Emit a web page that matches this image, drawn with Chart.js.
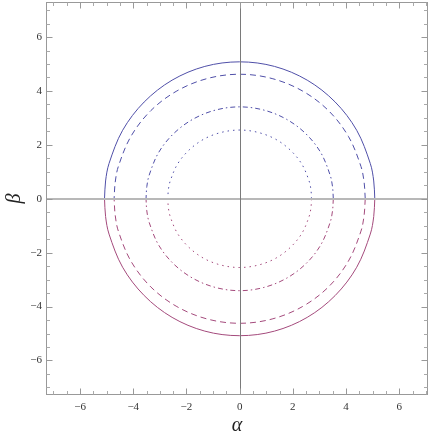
<!DOCTYPE html>
<html>
<head>
<meta charset="utf-8">
<script src="https://cdn.jsdelivr.net/npm/chart.js@4.4.0/dist/chart.umd.min.js"></script>
<style>
  html, body { margin: 0; padding: 0; background: #fff; }
</style>
</head>
<body>
<canvas id="chart" width="436" height="436"></canvas>
<script>
// curve points (upper half blue, lower half purple)
const alphaSolid = [5.08, 5.04, 4.91, 4.40, 3.59, 2.54, 1.31, 0, -1.31, -2.54, -3.59, -4.40, -4.91, -5.04, -5.08];
const betaSolidUp = [0, 0.66, 1.31, 2.54, 3.59, 4.40, 4.91, 5.08, 4.91, 4.40, 3.59, 2.54, 1.31, 0.66, 0];
const betaSolidDown = [0, -0.66, -1.31, -2.54, -3.59, -4.40, -4.91, -5.08, -4.91, -4.40, -3.59, -2.54, -1.31, -0.66, 0];

const alphaDashed = [4.72, 4.68, 4.56, 4.09, 3.34, 2.36, 1.22, 0, -1.22, -2.36, -3.34, -4.09, -4.56, -4.68, -4.72];
const betaDashedUp = [0, 0.60, 1.20, 2.31, 3.27, 4.00, 4.46, 4.62, 4.46, 4.00, 3.27, 2.31, 1.20, 0.60, 0];
const betaDashedDown = [0, -0.60, -1.20, -2.31, -3.27, -4.00, -4.46, -4.62, -4.46, -4.00, -3.27, -2.31, -1.20, -0.60, 0];

const alphaDashDot = [3.52, 3.49, 3.40, 3.05, 2.49, 1.76, 0.91, 0, -0.91, -1.76, -2.49, -3.05, -3.40, -3.49, -3.52];
const betaDashDotUp = [0, 0.45, 0.88, 1.71, 2.41, 2.95, 3.29, 3.41, 3.29, 2.95, 2.41, 1.71, 0.88, 0.45, 0];
const betaDashDotDown = [0, -0.45, -0.88, -1.71, -2.41, -2.95, -3.29, -3.41, -3.29, -2.95, -2.41, -1.71, -0.88, -0.45, 0];

const alphaDotted = [2.70, 2.68, 2.61, 2.34, 1.91, 1.35, 0.70, 0, -0.70, -1.35, -1.91, -2.34, -2.61, -2.68, -2.70];
const betaDottedUp = [0, 0.33, 0.66, 1.28, 1.80, 2.21, 2.46, 2.55, 2.46, 2.21, 1.80, 1.28, 0.66, 0.33, 0];
const betaDottedDown = [0, -0.33, -0.66, -1.28, -1.80, -2.21, -2.46, -2.55, -2.46, -2.21, -1.80, -1.28, -0.66, -0.33, 0];

const majorTicks = [-6, -4, -2, 0, 2, 4, 6];

const BLUE = "#4f4fa8";
const PURPLE = "#a44a7c";

const toPoints = (xs, ys) => xs.map((x, i) => ({ x: x, y: ys[i] }));

const curve = (xs, ys, color, dash) => ({
  data: toPoints(xs, ys),
  showLine: true,
  borderColor: color,
  borderWidth: 1,
  borderDash: dash,
  tension: 0.34,
  pointRadius: 0,
  fill: false,
});

const fmt = (v) => (v < 0 ? "\u2212" + Math.abs(v) : String(v));

// Mathematica-like frame with inward ticks and the two axes through 0
const framePlugin = {
  id: "frame",
  afterDatasetsDraw(chart) {
    const { ctx, chartArea: a, scales } = chart;
    const sx = scales.x, sy = scales.y;
    const L = Math.round(a.left) + 0.5, R = Math.round(a.right) - 0.5;
    const T = Math.round(a.top) + 0.5, B = Math.round(a.bottom) - 0.5;
    const line = (x1, y1, x2, y2) => {
      ctx.beginPath();
      ctx.moveTo(x1, y1);
      ctx.lineTo(x2, y2);
      ctx.stroke();
    };
    ctx.save();
    // horizontal axis
    ctx.strokeStyle = "#b8b8b8";
    ctx.lineWidth = 2;
    const y0 = Math.round(sy.getPixelForValue(0));
    line(L, y0, R, y0);
    // vertical axis
    ctx.strokeStyle = "#7a7a7a";
    ctx.lineWidth = 1;
    const x0 = Math.round(sx.getPixelForValue(0)) + 0.5;
    line(x0, T, x0, B);

    // frame
    ctx.strokeStyle = "#999";
    ctx.strokeRect(L, T, R - L, B - T);

    // ticks
    for (let k = -14; k <= 14; k++) {
      const v = k / 2;
      const major = majorTicks.includes(v);
      const len = major ? 6 : 3.5;
      ctx.strokeStyle = major ? "#999" : "#aaa";
      const px = Math.round(sx.getPixelForValue(v)) + 0.5;
      if (px > L && px < R) {
        line(px, B, px, B - len);
        line(px, T, px, T + len);
      }
      const py = Math.round(sy.getPixelForValue(v)) + 0.5;
      if (py > T && py < B) {
        line(L, py, L + len, py);
        line(R, py, R - len, py);
      }
    }
    ctx.restore();
  },
};

const tickFont = { family: "Liberation Serif", size: 11 };
const titleFont = { family: "Liberation Serif", size: 20, style: "italic", lineHeight: 1 };

new Chart(document.getElementById("chart"), {
  type: "scatter",
  data: {
    datasets: [
      curve(alphaSolid, betaSolidUp, BLUE, []),
      curve(alphaSolid, betaSolidDown, PURPLE, []),
      curve(alphaDashed, betaDashedUp, BLUE, [6, 4]),
      curve(alphaDashed, betaDashedDown, PURPLE, [6, 4]),
      curve(alphaDashDot, betaDashDotUp, BLUE, [5, 3, 1.5, 3]),
      curve(alphaDashDot, betaDashDotDown, PURPLE, [5, 3, 1.5, 3]),
      curve(alphaDotted, betaDottedUp, BLUE, [1.5, 4]),
      curve(alphaDotted, betaDottedDown, PURPLE, [1.5, 4]),
    ],
  },
  options: {
    responsive: false,
    animation: false,
    layout: { padding: { top: 2, right: 8, left: 0, bottom: 0 } },
    plugins: { legend: { display: false }, tooltip: { enabled: false } },
    scales: {
      x: {
        type: "linear",
        min: -7.28,
        max: 7.08,
        afterBuildTicks: (s) => { s.ticks = majorTicks.map((v) => ({ value: v })); },
        afterFit: (s) => { s.height = 41; s.paddingLeft = 0; s.paddingRight = 0; },
        grid: { display: false, drawTicks: false },
        border: { display: false },
        ticks: { padding: 6, font: tickFont, color: "#333", callback: fmt, maxRotation: 0, autoSkip: false },
        title: { display: true, text: "α", font: titleFont, color: "#222", padding: 0 },
      },
      y: {
        type: "linear",
        min: -7.28,
        max: 7.3,
        afterBuildTicks: (s) => { s.ticks = majorTicks.map((v) => ({ value: v })); },
        afterFit: (s) => { s.width = 46; s.paddingTop = 0; s.paddingBottom = 0; },
        grid: { display: false, drawTicks: false },
        border: { display: false },
        ticks: { padding: 4, font: tickFont, color: "#333", callback: fmt, autoSkip: false },
        title: { display: true, text: "β", font: titleFont, color: "#222", padding: { top: 5, bottom: 0 } },
      },
    },
  },
  plugins: [framePlugin],
});
</script>
</body>
</html>
